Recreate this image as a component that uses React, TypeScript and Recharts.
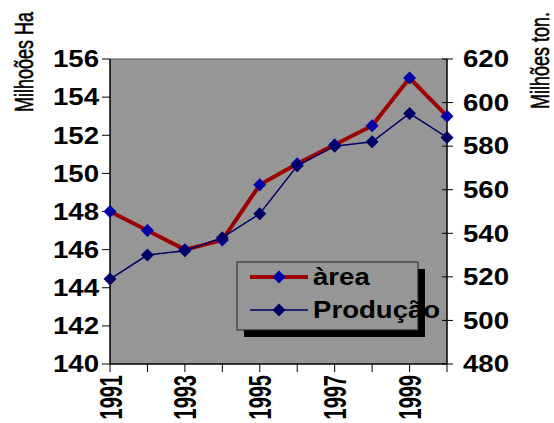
import React from 'react';
import { LineChart, Line, XAxis, YAxis, CartesianGrid, ReferenceLine } from 'recharts';

const years = [1991, 1992, 1993, 1994, 1995, 1996, 1997, 1998, 1999, 2000];
const areaValues = [148, 147, 146, 146.5, 149.4, 150.5, 151.5, 152.5, 155, 153];
const productionValues = [519, 530, 532, 538, 549, 571, 580, 582, 595, 584];
const leftTicks = [140, 142, 144, 146, 148, 150, 152, 154, 156];
const rightTicks = [480, 500, 520, 540, 560, 580, 600, 620];
const xLabelYears = [1991, 1993, 1995, 1997, 1999];
const seriesNames = ['àrea', 'Produção'];
const leftTitle = 'Milhoões Ha';
const rightTitle = 'Milhões ton.';

const data = years.map((y, i) => ({ year: y, area: areaValues[i], producao: productionValues[i] }));

const FONT = '"Liberation Sans", Arial, sans-serif';
const SX = 1.2;
const FS = 23;

const AREA_LINE = '#9c0000';
const AREA_DOT = '#0000a8';
const PROD_LINE = '#000066';
const PROD_DOT = '#000066';
const PLOT_BG = '#969696';

const diamond = (cx: number, cy: number, r: number) =>
  `${cx},${cy - r} ${cx + r},${cy} ${cx},${cy + r} ${cx - r},${cy}`;

const makeDot = (fill: string) => (props: any) => {
  const { cx, cy, index } = props;
  if (cx == null || cy == null) return <g key={`d${index}`} />;
  return <polygon key={`d${index}`} points={diamond(cx, cy, 6.5)} fill={fill} />;
};

const LeftTick = (props: any) => {
  const { x, y, payload } = props;
  return (
    <text transform={`translate(${x},${y}) scale(${SX},1)`} textAnchor="end" dy="0.36em"
      fontFamily={FONT} fontWeight="bold" fontSize={FS} fill="#000">
      {payload.value}
    </text>
  );
};

const RIGHT_MARGIN = 16;
const RightTick = (props: any) => {
  const { x, y, payload } = props;
  const ax = x - RIGHT_MARGIN;
  return (
    <g>
      <line x1={ax - 5} x2={ax + 6} y1={y} y2={y} stroke="#000" strokeWidth={1} />
      <text transform={`translate(${x},${y}) scale(${SX},1)`} textAnchor="start" dy="0.36em"
        fontFamily={FONT} fontWeight="bold" fontSize={FS} fill="#000">
        {payload.value}
      </text>
    </g>
  );
};

const XTick = (props: any) => {
  const { x, y, payload } = props;
  if (!xLabelYears.includes(payload.value)) return <g />;
  return (
    <text transform={`translate(${x},${y + 3}) scale(1.6,1) rotate(-90)`} textAnchor="end" dy="0.36em"
      fontFamily={FONT} fontWeight="bold" fontSize={20} fill="#000">
      {payload.value}
    </text>
  );
};

const LegendBox = () => {
  const rows = [
    { y: 22, color: AREA_LINE, dot: AREA_DOT, w: 4, name: seriesNames[0] },
    { y: 55, color: PROD_LINE, dot: PROD_DOT, w: 1.5, name: seriesNames[1] },
  ];
  return (
    <g transform="translate(230,255)">
      <rect x={14} y={14} width={181} height={68} fill="#000" />
      <rect x={7} y={7} width={181} height={68} fill={PLOT_BG} stroke="#222" strokeWidth={1} />
      {rows.map((r, i) => (
        <g key={i}>
          <line x1={20} x2={78} y1={r.y} y2={r.y} stroke={r.color} strokeWidth={r.w} />
          <polygon points={diamond(49, r.y, 6.5)} fill={r.dot} />
          <text transform={`translate(83,${r.y}) scale(${SX},1)`} dy="0.36em" fontFamily={FONT}
            fontWeight="bold" fontSize={FS} fill="#000">
            {r.name}
          </text>
        </g>
      ))}
    </g>
  );
};

export default function App() {
  return (
    <div style={{ position: 'absolute', left: 0, top: 0, width: 554, height: 423, background: '#fff' }}>
      <LineChart width={554} height={423} data={data} margin={{ top: 59, right: 0, bottom: 0, left: 0 }}>
        <CartesianGrid horizontal={false} vertical={false} fill={PLOT_BG} fillOpacity={1} />
        <XAxis dataKey="year" type="number" domain={[1991, 2000]} ticks={years} interval={0}
          height={59} tickSize={8} tickMargin={0} tick={<XTick />}
          axisLine={{ stroke: '#000', strokeWidth: 1.5 }} tickLine={{ stroke: '#000' }} />
        <YAxis domain={[140, 156]} ticks={leftTicks} interval={0} width={110} tickSize={8} tickMargin={3}
          tick={<LeftTick />} axisLine={{ stroke: '#000', strokeWidth: 1.5 }} tickLine={{ stroke: '#000' }} />
        <YAxis yAxisId="right" orientation="right" domain={[480, 620]} ticks={rightTicks} interval={0}
          width={107} tickSize={0} tickMargin={RIGHT_MARGIN} tick={<RightTick />} tickLine={false}
          axisLine={{ stroke: '#000', strokeWidth: 1.5 }} />
        <ReferenceLine y={156} stroke="#555" strokeWidth={1} />
        <Line dataKey="area" name={seriesNames[0]} stroke={AREA_LINE} strokeWidth={4}
          dot={makeDot(AREA_DOT)} activeDot={false} isAnimationActive={false} />
        <Line dataKey="producao" yAxisId="right" name={seriesNames[1]} stroke={PROD_LINE} strokeWidth={1.5}
          dot={makeDot(PROD_DOT)} activeDot={false} isAnimationActive={false} />
        <LegendBox />
        <g>
          <text transform="translate(33,12) scale(1.4,1) rotate(-90)" textAnchor="end"
            fontFamily={FONT} fontSize={18} fill="#000" stroke="#000" strokeWidth={0.4}>{leftTitle}</text>
          <text transform="translate(549,12) scale(1.4,1) rotate(-90)" textAnchor="end"
            fontFamily={FONT} fontSize={18} fill="#000" stroke="#000" strokeWidth={0.4}>{rightTitle}</text>
        </g>
      </LineChart>
    </div>
  );
}
